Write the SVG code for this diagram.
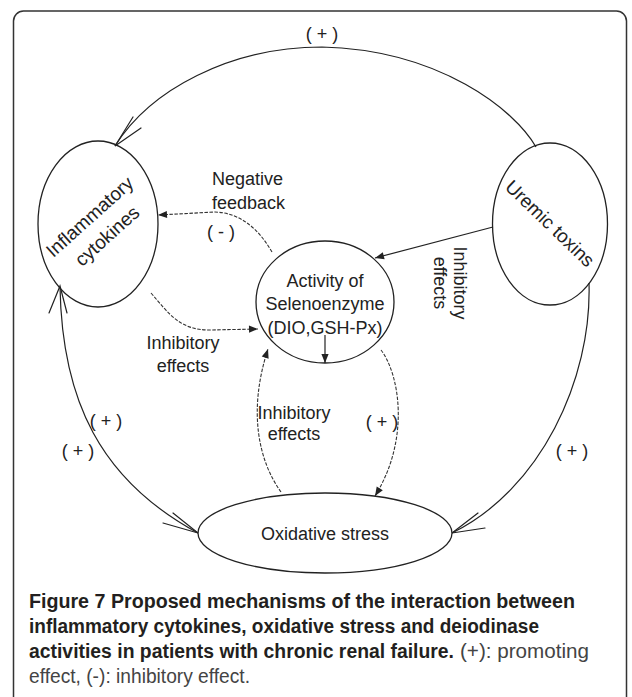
<svg xmlns="http://www.w3.org/2000/svg" width="632" height="697" viewBox="0 0 632 697">
<style>
  .node { fill: none; stroke: #222; stroke-width: 1.3; }
  .lbl { font-family: "Liberation Sans", Arial, sans-serif; font-size: 18px; fill: #222; }
  .nlbl { font-family: "Liberation Sans", Arial, sans-serif; font-size: 19px; fill: #222; }
  .solid { fill: none; stroke: #222; stroke-width: 1.2; }
  .dash { fill: none; stroke: #333; stroke-width: 1.1; stroke-dasharray: 3.5 1.5; }
  .open { fill: none; stroke: #222; stroke-width: 1.2; stroke-linecap: round; }
  .capb { font-family: "Liberation Sans", Arial, sans-serif; font-size: 20px; font-weight: bold; fill: #231f20; }
  .capr { font-family: "Liberation Sans", Arial, sans-serif; font-size: 20px; fill: #444; }
</style>
<defs>
  <marker id="fa" viewBox="0 0 10 10" refX="10" refY="5" markerWidth="10" markerHeight="9" markerUnits="userSpaceOnUse" orient="auto">
    <path d="M0,1 L10,5 L0,9 z" fill="#222"/>
  </marker>
</defs>

<rect x="13.5" y="11" width="613" height="720" rx="10" fill="none" stroke="#333" stroke-width="1.5"/>

<g id="inflammatory">
  <ellipse class="node" cx="98" cy="224" rx="60" ry="83"/>
  <g transform="translate(98,226) rotate(-42)">
    <text class="nlbl" text-anchor="middle" x="0" y="-6">Inflammatory</text>
    <text class="nlbl" text-anchor="middle" x="0" y="20">cytokines</text>
  </g>
</g>

<g id="uremic">
  <ellipse class="node" cx="550" cy="224" rx="57.5" ry="81"/>
  <text class="nlbl" text-anchor="middle" transform="translate(550,223.5) rotate(44)" x="0" y="6.5">Uremic toxins</text>
</g>

<g id="selenoenzyme">
  <ellipse class="node" cx="325" cy="302" rx="69" ry="61"/>
  <text class="lbl" text-anchor="middle" x="325" y="286.5">Activity of</text>
  <text class="lbl" text-anchor="middle" x="325" y="309.5">Selenoenzyme</text>
  <text class="lbl" text-anchor="middle" x="325" y="333.5">(DIO,GSH-Px)</text>
</g>

<g id="oxidative">
  <ellipse class="node" cx="325" cy="533" rx="127" ry="40"/>
  <text class="lbl" text-anchor="middle" x="325" y="539.5">Oxidative stress</text>
</g>

<g id="connectors">
  <path class="solid" d="M536 147 C515 110 440 50 322 47 C230 47 150 90 115 146"/>
  <path class="open" d="M133 117 L115 146 L141 128"/>
  <path class="solid" d="M60 287 C62 400 100 480 198 533"/>
  <path class="open" d="M49 313 L60 286 L67 313"/>
  <path class="open" d="M163 523 L198 533 L173 513"/>
  <path class="solid" d="M589 283 C592 380 540 490 452 533"/>
  <path class="open" d="M485 528 L452 533 L478 513"/>
  <path class="solid" d="M493 227 L375 258" marker-end="url(#fa)"/>
  <path class="solid" d="M325 335 L325 363" marker-end="url(#fa)"/>
  <path class="dash" d="M272 252 C258 228 240 213 215 212 L158 215" marker-end="url(#fa)"/>
  <path class="dash" d="M151 293 C170 315 180 330 210 330 L258 329" marker-end="url(#fa)"/>
  <path class="dash" d="M281 492 C258 460 248 410 268 349" marker-end="url(#fa)"/>
  <path class="dash" d="M381 350 C400 375 410 440 375 496" marker-end="url(#fa)"/>
</g>

<g id="labels">
  <text class="lbl" text-anchor="middle" x="322" y="39.5">( + )</text>
  <text class="lbl" x="212" y="184.5">Negative</text>
  <text class="lbl" x="212" y="208.5">feedback</text>
  <text class="lbl" text-anchor="middle" x="221" y="238">( - )</text>
  <g transform="translate(450,283) rotate(90)">
    <text class="lbl" text-anchor="middle" x="0" y="-3.5">Inhibitory</text>
    <text class="lbl" text-anchor="middle" x="0" y="16.5">effects</text>
  </g>
  <text class="lbl" text-anchor="middle" x="183" y="348.5">Inhibitory</text>
  <text class="lbl" text-anchor="middle" x="183" y="371.5">effects</text>
  <text class="lbl" text-anchor="middle" x="294" y="418.5">Inhibitory</text>
  <text class="lbl" text-anchor="middle" x="294" y="440">effects</text>
  <text class="lbl" text-anchor="middle" x="382" y="428">( + )</text>
  <text class="lbl" text-anchor="middle" x="106" y="427">( + )</text>
  <text class="lbl" text-anchor="middle" x="78" y="457">( + )</text>
  <text class="lbl" text-anchor="middle" x="572" y="457">( + )</text>
</g>

<g id="caption">
  <text class="capb" x="29" y="608" textLength="546" lengthAdjust="spacingAndGlyphs">Figure 7 Proposed mechanisms of the interaction between</text>
  <text class="capb" x="29" y="633" textLength="510" lengthAdjust="spacingAndGlyphs">inflammatory cytokines, oxidative stress and deiodinase</text>
  <text class="capb" x="29" y="658" textLength="425" lengthAdjust="spacingAndGlyphs">activities in patients with chronic renal failure.</text>
  <text class="capr" x="460" y="658" textLength="129" lengthAdjust="spacingAndGlyphs">(+): promoting</text>
  <text class="capr" x="29" y="683" textLength="221" lengthAdjust="spacingAndGlyphs">effect, (-): inhibitory effect.</text>
</g>
</svg>
